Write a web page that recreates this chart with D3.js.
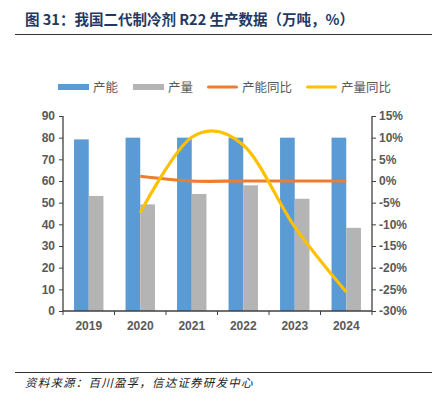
<!DOCTYPE html>
<html>
<head>
<meta charset="utf-8">
<script src="https://cdn.jsdelivr.net/npm/d3@7"></script>
<style>
  body { margin: 0; background: #fff; }
  svg { display: block; }
  .tick text { font-family: "Liberation Sans", Arial, sans-serif; font-weight: bold; font-size: 12px; fill: #595959; }
</style>
</head>
<body>
<script>

var years = ["2019", "2020", "2021", "2022", "2023", "2024"];
var capacity = [79.2, 80, 80, 80, 80, 80];
var output = [53.1, 49.2, 54, 58, 51.8, 38.4];
var capacityYoy = [null, 1.1, 0, 0, 0, 0];
var outputYoy = [null, -7.3, 10.1, 8.3, -10.6, -25.6];
var leftTicks = [0, 10, 20, 30, 40, 50, 60, 70, 80, 90];
var rightTicks = [15, 10, 5, 0, -5, -10, -15, -20, -25, -30];

var width = 437, height = 398;
var plotLeft = 63, plotRight = 372, plotTop = 116, plotBottom = 311;

var svg = d3.select("body").append("svg")
    .attr("width", width)
    .attr("height", height);

// title
svg.append("text")
    .attr("x", 25)
    .attr("y", 25)
    .attr("font-family", "'Noto Sans CJK SC', sans-serif")
    .attr("font-weight", "bold")
    .attr("font-size", 14.5)
    .attr("fill", "#1f3864")
    .text("图 31：我国二代制冷剂 R22 生产数据（万吨，%）");

svg.append("line")
    .attr("x1", 15).attr("x2", 432)
    .attr("y1", 34.5).attr("y2", 34.5)
    .attr("stroke", "#333").attr("stroke-width", 1);

svg.append("line")
    .attr("x1", 15).attr("x2", 432)
    .attr("y1", 372.5).attr("y2", 372.5)
    .attr("stroke", "#333").attr("stroke-width", 1);

svg.append("text")
    .attr("x", 25)
    .attr("y", 387)
    .attr("font-family", "'Noto Sans CJK SC', sans-serif")
    .attr("font-style", "italic")
    .attr("font-size", 11.5)
    .attr("letter-spacing", 1.2)
    .attr("fill", "#222")
    .text("资料来源：百川盈孚，信达证券研发中心");

var x = d3.scaleBand().domain(years).range([plotLeft, plotRight]).paddingInner(0).paddingOuter(0);
var sub = d3.scaleBand().domain(["cap", "out"]).range([x.bandwidth() / 2 - 14.7, x.bandwidth() / 2 + 14.7]);
var y = d3.scaleLinear().domain([0, 90]).range([plotBottom, plotTop]);
var y2 = d3.scaleLinear().domain([-30, 15]).range([plotBottom, plotTop]);

var g = svg.append("g");

// bars
g.selectAll("rect.cap")
  .data(years)
  .enter().append("rect")
    .attr("class", "cap")
    .attr("x", function(d) { return x(d) + sub("cap"); })
    .attr("width", sub.bandwidth())
    .attr("y", function(d, i) { return y(capacity[i]); })
    .attr("height", function(d, i) { return y(0) - y(capacity[i]); })
    .attr("fill", "#5b9bd5");

g.selectAll("rect.out")
  .data(years)
  .enter().append("rect")
    .attr("class", "out")
    .attr("x", function(d) { return x(d) + sub("out"); })
    .attr("width", sub.bandwidth())
    .attr("y", function(d, i) { return y(output[i]); })
    .attr("height", function(d, i) { return y(0) - y(output[i]); })
    .attr("fill", "#b4b4b4");

// axes
var axisColor = "#404040";

var leftAxis = svg.append("g")
    .attr("transform", "translate(" + plotLeft + ",0)")
    .call(d3.axisLeft(y).tickValues(leftTicks).tickSize(4).tickPadding(4));

var rightAxis = svg.append("g")
    .attr("transform", "translate(" + plotRight + ",0)")
    .call(d3.axisRight(y2).tickValues(rightTicks).tickSize(4).tickPadding(3)
      .tickFormat(function(d) { return d + "%"; }));

var bottomAxis = svg.append("g")
    .attr("transform", "translate(0," + plotBottom + ")")
    .call(d3.axisBottom(x).tickSize(0).tickPadding(10));

// band boundary ticks on x axis
bottomAxis.selectAll("line.sep")
  .data(years.concat(["end"]))
  .enter().append("line")
    .attr("class", "sep")
    .attr("x1", function(d, i) { return plotLeft + i * x.step(); })
    .attr("x2", function(d, i) { return plotLeft + i * x.step(); })
    .attr("y1", 0).attr("y2", 4)
    .attr("stroke", axisColor);

[leftAxis, rightAxis, bottomAxis].forEach(function(a) {
  a.select(".domain").attr("stroke", axisColor).attr("stroke-width", 1.3);
  a.selectAll(".tick line").attr("stroke", axisColor);
  a.attr("font-family", null);
});
leftAxis.select(".domain").attr("d", "M0," + plotBottom + "V" + plotTop);
rightAxis.select(".domain").attr("d", "M0," + plotBottom + "V" + plotTop);
bottomAxis.select(".domain").attr("d", "M" + plotLeft + ",0H" + plotRight);

// lines
var line = d3.line()
    .defined(function(d) { return d.v != null; })
    .x(function(d) { return x(d.year) + x.bandwidth() / 2; })
    .y(function(d) { return y2(d.v); })
    .curve(d3.curveCatmullRom.alpha(0));

function pts(arr) {
  return years.map(function(yr, i) { return { year: yr, v: arr[i] }; });
}

g.append("path")
    .attr("d", line(pts(capacityYoy)))
    .attr("fill", "none")
    .attr("stroke", "#ed7d31")
    .attr("stroke-width", 3.2)
    .attr("stroke-linecap", "butt");

g.append("path")
    .attr("d", line(pts(outputYoy)))
    .attr("fill", "none")
    .attr("stroke", "#ffc000")
    .attr("stroke-width", 3.2)
    .attr("stroke-linecap", "butt");

// legend
var legend = [
  { name: "产能", color: "#5b9bd5", type: "bar", x: 58 },
  { name: "产量", color: "#b4b4b4", type: "bar", x: 133 },
  { name: "产能同比", color: "#ed7d31", type: "line", x: 207 },
  { name: "产量同比", color: "#ffc000", type: "line", x: 306 }
];

var lg = svg.append("g").selectAll("g")
  .data(legend)
  .enter().append("g")
    .attr("transform", function(d) { return "translate(" + d.x + ",87)"; });

lg.append("rect")
    .attr("x", 0)
    .attr("y", function(d) { return d.type == "bar" ? -3 : -1.6; })
    .attr("width", 31)
    .attr("height", function(d) { return d.type == "bar" ? 6 : 3.2; })
    .attr("rx", function(d) { return d.type == "bar" ? 0 : 1.6; })
    .attr("fill", function(d) { return d.color; });

lg.append("text")
    .attr("x", 35)
    .attr("y", 4.5)
    .attr("font-family", "'Noto Sans CJK SC', sans-serif")
    .attr("font-size", 12.5)
    .attr("fill", "#595959")
    .text(function(d) { return d.name; });

</script>
</body>
</html>
